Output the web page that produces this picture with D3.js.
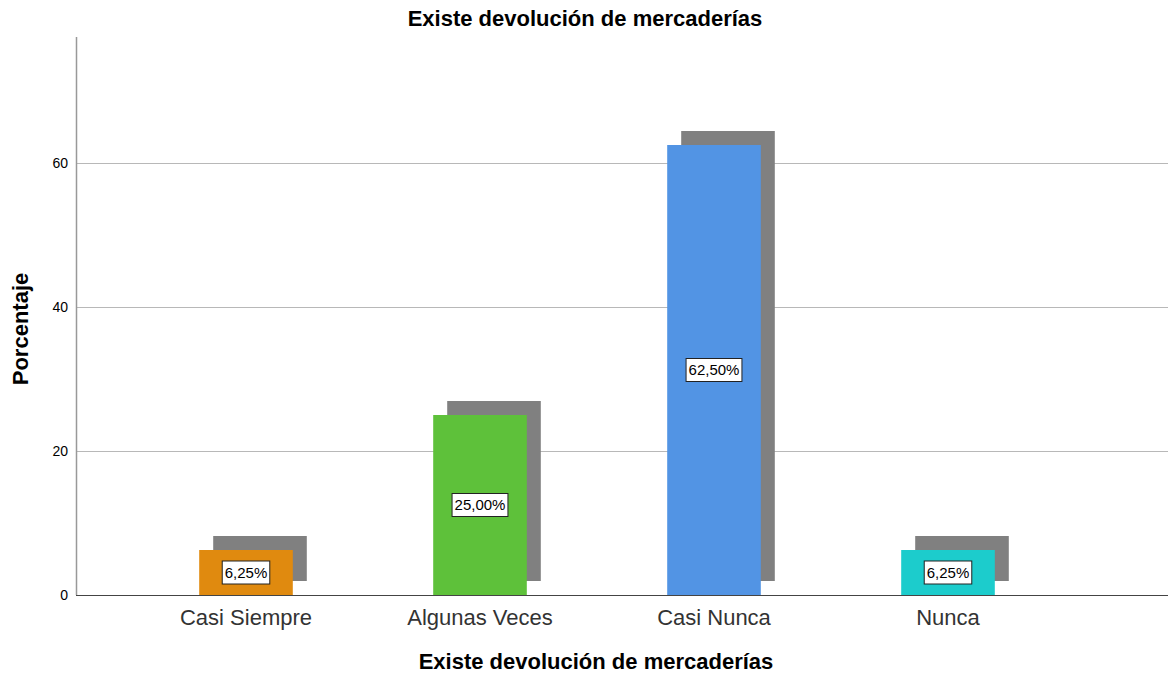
<!DOCTYPE html>
<html>
<head>
<meta charset="utf-8">
<script src="https://cdn.jsdelivr.net/npm/d3@7"></script>
<style>
  body { margin: 0; background: #fff; }
  svg { font-family: "Liberation Sans", Arial, sans-serif; }
</style>
</head>
<body>
<div id="chart"></div>
<script>
// data
var categories = ["Casi Siempre", "Algunas Veces", "Casi Nunca", "Nunca"];
var percents = [6.25, 25.00, 62.50, 6.25];
var barColors = ["#e08a0f", "#5ec13a", "#5294e4", "#1ccccc"];
var yTicks = [0, 20, 40, 60];

var width = 1168, height = 678;
var plotLeft = 76, plotRight = 1168, plotTop = 37, plotBottom = 595;

var svg = d3.select("#chart")
            .append("svg")
            .attr("width", width)
            .attr("height", height);

var x = d3.scaleBand()
          .domain(categories)
          .range([129, 1065])
          .paddingInner(0.6)
          .paddingOuter(0.3);

var y = d3.scaleLinear()
          .domain([0, 77.5]) // axis limits
          .range([plotBottom, plotTop]);

// grid lines
svg.append("g")
   .selectAll("line")
   .data(yTicks.filter(function(d) { return d > 0; }))
   .enter().append("line")
     .attr("x1", plotLeft)
     .attr("x2", plotRight)
     .attr("y1", function(d) { return Math.round(y(d)) + 0.5; })
     .attr("y2", function(d) { return Math.round(y(d)) + 0.5; })
     .attr("stroke", "#b8b8b8")
     .attr("stroke-width", 1);

// shadows
var shift = 14;
svg.append("g")
   .selectAll("rect")
   .data(percents)
   .enter().append("rect")
     .attr("x", function(d, i) { return x(categories[i]) + shift; })
     .attr("y", function(d) { return y(d) - shift; })
     .attr("width", x.bandwidth())
     .attr("height", function(d) { return y(0) - y(d); })
     .attr("fill", "#808080");

// bars
svg.append("g")
   .selectAll("rect")
   .data(percents)
   .enter().append("rect")
     .attr("x", function(d, i) { return x(categories[i]); })
     .attr("y", function(d) { return y(d); })
     .attr("width", x.bandwidth())
     .attr("height", function(d) { return y(0) - y(d); })
     .attr("fill", function(d, i) { return barColors[i]; });

// y axis
var yAxis = svg.append("g")
   .attr("transform", "translate(" + plotLeft + ",0)")
   .call(d3.axisLeft(y).tickValues(yTicks).tickSize(0).tickPadding(8));
yAxis.select(".domain").remove();
yAxis.selectAll("text").style("font-size", "14px").attr("fill", "#000");

svg.append("line")
   .attr("x1", plotLeft + 0.5).attr("x2", plotLeft + 0.5)
   .attr("y1", plotTop).attr("y2", plotBottom)
   .attr("stroke", "#999").attr("stroke-width", 1.5);

// x axis
var xAxis = svg.append("g")
   .attr("transform", "translate(0," + plotBottom + ")")
   .call(d3.axisBottom(x).tickSize(0).tickPadding(14));
xAxis.select(".domain").remove();
xAxis.selectAll("text").style("font-size", "22px").attr("fill", "#333");

svg.append("line")
   .attr("x1", plotLeft).attr("x2", plotRight)
   .attr("y1", plotBottom + 0.5).attr("y2", plotBottom + 0.5)
   .attr("stroke", "#444").attr("stroke-width", 1);

// value labels
var labels = svg.append("g")
   .selectAll("g")
   .data(percents)
   .enter().append("g")
     .attr("transform", function(d, i) {
       return "translate(" + (x(categories[i]) + x.bandwidth() / 2) + "," + y(d / 2) + ")";
     });

labels.append("text")
   .attr("text-anchor", "middle")
   .attr("dy", "0.36em")
   .style("font-size", "15px")
   .text(function(d) { return d.toFixed(2).replace(".", ",") + "%"; })
   .each(function() {
     var b = this.getBBox();
     d3.select(this.parentNode).insert("rect", "text")
       .attr("x", b.x - 2.5)
       .attr("y", -11.5)
       .attr("width", b.width + 5)
       .attr("height", 23)
       .attr("fill", "#fff")
       .attr("stroke", "#222")
       .attr("stroke-width", 1);
   });

// titles
svg.append("text")
   .attr("x", 585).attr("y", 26)
   .attr("text-anchor", "middle")
   .style("font-size", "22px").style("font-weight", "bold")
   .text("Existe devolución de mercaderías");

svg.append("text")
   .attr("x", 596).attr("y", 669)
   .attr("text-anchor", "middle")
   .style("font-size", "22px").style("font-weight", "bold")
   .text("Existe devolución de mercaderías");

svg.append("text")
   .attr("transform", "translate(28," + 329 + ") rotate(-90)")
   .attr("text-anchor", "middle")
   .style("font-size", "22px").style("font-weight", "bold")
   .text("Porcentaje");
</script>
</body>
</html>
